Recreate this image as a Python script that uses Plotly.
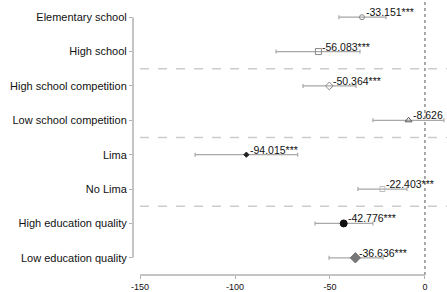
import plotly.graph_objects as go

categories = ["Elementary school", "High school", "High school competition",
              "Low school competition", "Lima", "No Lima",
              "High education quality", "Low education quality"]
estimates = [-33.151, -56.083, -50.364, -8.626, -94.015, -22.403, -42.776, -36.636]
ci_low = [-45.3, -78.4, -64.2, -27.4, -121.0, -35.3, -57.9, -50.5]
ci_high = [-20.5, -34.2, -36.3, 10.0, -67.0, -9.5, -27.4, -22.0]
stars = ["***", "***", "***", "", "***", "***", "***", "***"]
x_ticks = [-150, -100, -50, 0]

symbols = ["circle-open", "square-open", "diamond-open", "triangle-up-open",
           "diamond", "square-open", "circle", "diamond"]
mcolors = ["#888888", "#888888", "#888888", "#555555",
           "#222222", "#bbbbbb", "#111111", "#777777"]
msizes = [5, 6, 6, 6, 4, 5, 7, 8]

XR = [-153.7, 11.6]

fig = go.Figure()
for i, cat in enumerate(categories):
    fig.add_trace(go.Scatter(
        x=[estimates[i]], y=[i], mode="markers",
        marker=dict(symbol=symbols[i], size=msizes[i], color=mcolors[i],
                    line=dict(width=1, color=mcolors[i])),
        error_x=dict(type="data", symmetric=False,
                     array=[ci_high[i] - estimates[i]],
                     arrayminus=[estimates[i] - ci_low[i]],
                     color="#a8a8a8", thickness=1.2, width=2),
        showlegend=False))
    fig.add_annotation(x=estimates[i], y=i, text=f"{estimates[i]:.3f}{stars[i]}",
                       showarrow=False, xanchor="left", yanchor="middle",
                       xshift=2, yshift=5,
                       font=dict(family="Liberation Sans, Arial", size=10.5, color="#111"))

shapes = []
for yy in [1.5, 3.5, 5.5]:
    shapes.append(dict(type="line", xref="x", yref="y", x0=-150, x1=XR[1], y0=yy, y1=yy,
                       line=dict(color="#cccccc", width=1.5, dash="dash"), layer="below"))
shapes.append(dict(type="line", xref="x", yref="paper", x0=0, x1=0, y0=0, y1=1,
                   line=dict(color="#555555", width=1, dash="dot")))
shapes.append(dict(type="line", xref="paper", yref="y", x0=0, x1=0, y0=0, y1=len(categories) - 1,
                   line=dict(color="#b0b0b0", width=1.5)))
shapes.append(dict(type="line", xref="x", yref="paper", x0=-150, x1=0, y0=0, y1=0,
                   line=dict(color="#b0b0b0", width=1.5)))

fig.update_layout(
    width=447, height=292,
    margin=dict(l=133, r=0, t=0, b=15),
    plot_bgcolor="white", paper_bgcolor="white",
    shapes=shapes,
    font=dict(family="Liberation Sans, Arial", color="#111"),
    xaxis=dict(range=XR, tickvals=x_ticks, ticktext=[str(v) for v in x_ticks],
               showgrid=False, zeroline=False, showline=False,
               ticks="outside", ticklen=3, tickcolor="#b0b0b0",
               tickfont=dict(size=9, color="#111")),
    yaxis=dict(range=[7.5, -0.5], tickvals=list(range(len(categories))), ticktext=categories,
               showgrid=False, zeroline=False, showline=False,
               ticks="outside", ticklen=3, tickcolor="#b0b0b0",
               tickfont=dict(size=11, color="#111")),
)

fig.write_html("out.html", config={"displayModeBar": False},
               post_script="document.body.style.margin='0';document.body.style.overflow='hidden';")
